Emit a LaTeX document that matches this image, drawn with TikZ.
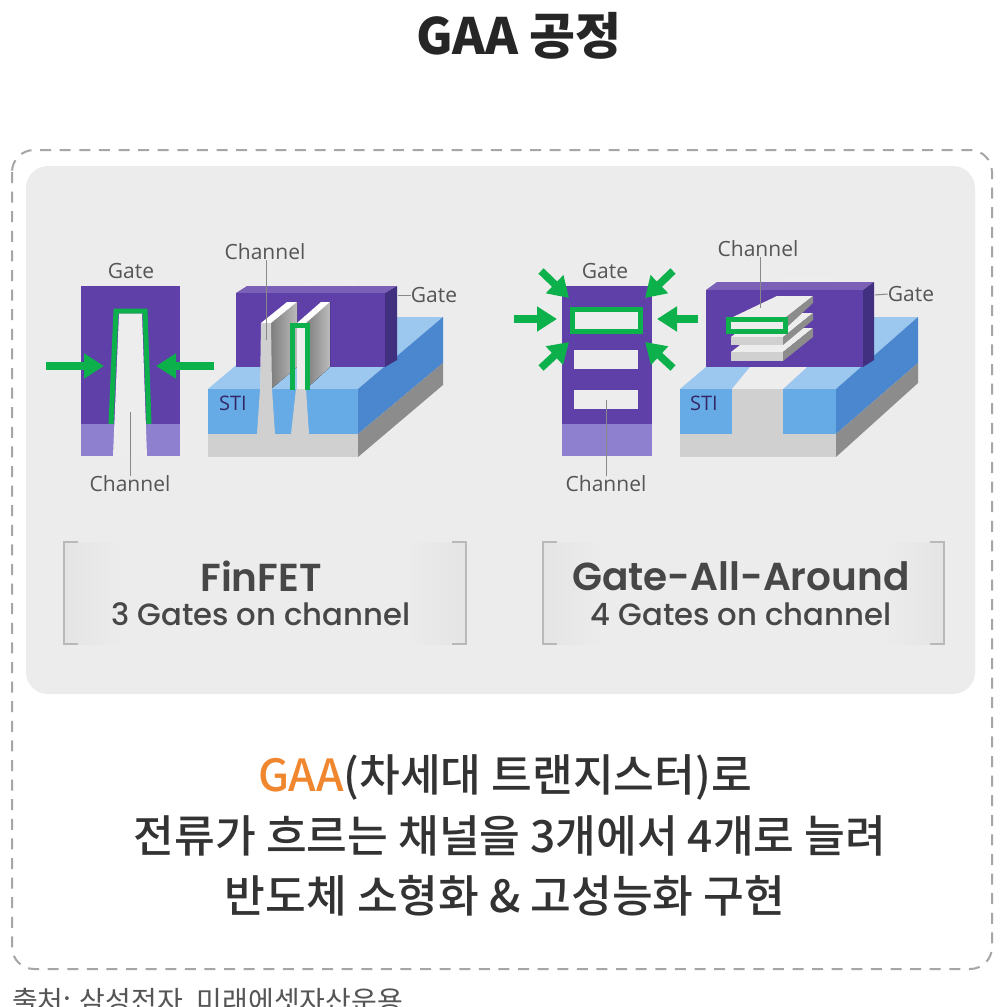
\documentclass[tikz,border=0pt]{standalone}
\usepackage{fontspec}
\setmainfont{Noto Sans CJK KR}
\newfontfamily\medkr{Noto Sans CJK KR Medium}
\newfontfamily\latinf{Open Sans}
\newfontfamily\wide{Poppins Medium}
\newfontfamily\widesb{Poppins SemiBold}
\usetikzlibrary{arrows.meta}
\definecolor{gatef}{HTML}{5F3FA8}
\definecolor{gatet}{HTML}{7B60B8}
\definecolor{gates}{HTML}{41307F}
\definecolor{gatel}{HTML}{8F7FCF}
\definecolor{stif}{HTML}{66ABE6}
\definecolor{stit}{HTML}{9CC7EE}
\definecolor{stis}{HTML}{4A87CF}
\definecolor{basef}{HTML}{D0D0D0}
\definecolor{bases}{HTML}{8C8C8C}
\definecolor{chan}{HTML}{EDEDED}
\definecolor{grn}{HTML}{0DB14B}
\definecolor{panel}{HTML}{ECECEC}
\definecolor{ink}{HTML}{333333}
\definecolor{lab}{HTML}{555555}
\definecolor{org}{HTML}{F0862E}
\definecolor{capside}{HTML}{E4E4E4}
\tikzset{
  x=1pt,y=-1pt,
  gateface/.style={fill=gatef},
  gatetop/.style={fill=gatet},
  gateside/.style={fill=gates},
  gatelow/.style={fill=gatel},
  stiface/.style={fill=stif},
  stitop/.style={fill=stit},
  stiside/.style={fill=stis},
  baseface/.style={fill=basef},
  baseside/.style={fill=bases},
  chanface/.style={fill=chan},
  finside/.style={left color=bases!90!black,right color=basef!90!black},
  greenline/.style={draw=grn,line width=5pt},
  pusharrow/.style={draw=grn,line width=7.5pt,-{Triangle[length=20pt,width=24pt]}},
  smalllabel/.style={font=\latinf\fontsize{21}{21}\selectfont,text=lab,inner sep=0pt},
  leader/.style={draw=lab!70,line width=1pt},
  stilabel/.style={font=\latinf\fontsize{20}{20}\selectfont,text=gates!80!black,inner sep=0pt},
  bracket/.style={draw=gray!55,line width=1.6pt},
  headtext/.style={font=\widesb\fontsize{39}{39}\selectfont,text=ink!90,inner sep=0pt},
  subtext/.style={font=\wide\fontsize{30.7}{30.7}\selectfont,text=ink!90,inner sep=0pt},
  bigtext/.style={font=\medkr\fontsize{44.3}{44.3}\selectfont,text=ink,inner sep=0pt},
}
\begin{document}
\begin{tikzpicture}
\useasboundingbox (0,0) rectangle (1002,1007);
\clip (0,0) rectangle (1002,1007);
\fill[white] (0,0) rectangle (1002,1007);

\node[inner sep=0pt,font=\bfseries\fontsize{50}{50}\selectfont,text=black!85] (title) at (519,36) {GAA 공정};
\draw[draw=gray!70,line width=2pt,dash pattern=on 11pt off 8.6pt,rounded corners=22pt] (12,150) rectangle (992,969);
\fill[panel,rounded corners=22pt] (26,166) rectangle (975,694);

% ---------- FinFET cross-section
\fill[gateface] (81,286) rectangle (180,424);
\fill[gatelow] (81,424) rectangle (180,456);
\draw[greenline] (111,424) -- (116,311) -- (145,311) -- (149,424);
\fill[chanface] (119,313.5) -- (142,313.5) -- (147,456) -- (113,456) -- cycle;

% ---------- FinFET 3D
\fill[stitop] (208,389) -- (293,317) -- (443,317) -- (358,389) -- cycle;
\fill[stiside] (358,389) -- (443,317) -- (443,363) -- (358,434) -- cycle;
\fill[baseside] (358,434) -- (443,363) -- (443,385) -- (358,457) -- cycle;
\fill[chanface] (303,286) -- (308,280) -- (322,280) -- (320,286) -- cycle;
\fill[chanface] (338,286) -- (343,280) -- (357,280) -- (355,286) -- cycle;
\fill[gatetop] (236,293) -- (247,286) -- (397,286) -- (385,293) -- cycle;
\fill[gateface] (236,293) rectangle (385,367);
\fill[gateside] (385,293) -- (397,286) -- (397,360) -- (385,367) -- cycle;
\fill[stiface] (208,389) rectangle (358,434);
\fill[baseface] (208,434) rectangle (358,457);
% fin 1
\fill[finside] (271,323) -- (297,302) -- (297,367) -- (271,389) -- cycle;
\fill[white] (261,323) -- (287,302) -- (297,302) -- (271,323) -- cycle;
\fill[basef] (261,323) -- (271,323) -- (272,389) -- (275,434) -- (257,434) -- (260,389) -- cycle;
% fin 2
\fill[finside] (306,323) -- (330,302) -- (330,367) -- (306,389) -- cycle;
\fill[white] (297,323) -- (321,302) -- (330,302) -- (306,323) -- cycle;
\fill[basef] (296,389) -- (306,389) -- (309,434) -- (291,434) -- cycle;
\fill[chanface] (297,325) rectangle (306,389);
\draw[greenline] (292.5,390) -- (292.5,325) -- (307.5,325) -- (307.5,390);

% ---------- GAA cross-section
\fill[gateface] (562,286) rectangle (652,424);
\fill[gatelow] (562,424) rectangle (652,456);
\fill[chanface] (574,312) rectangle (638,329);
\draw[greenline] (572.5,309.5) rectangle (640.5,331);
\fill[chanface] (574,350) rectangle (638,369);
\fill[chanface] (574,390) rectangle (638,409);

% ---------- GAA 3D
\fill[stitop] (680,389) -- (765,317) -- (918,317) -- (836,389) -- cycle;
\fill[chanface] (732,389) -- (750,367) -- (807,367) -- (783,389) -- cycle;
\fill[stiside] (836,389) -- (918,317) -- (918,363) -- (836,434) -- cycle;
\fill[baseside] (836,434) -- (918,363) -- (918,383) -- (836,457) -- cycle;
\fill[chanface] (777,282) -- (781,277) -- (834,277) -- (834,282) -- cycle;
\fill[gatetop] (706,290) -- (717,282) -- (874,282) -- (863,290) -- cycle;
\fill[gateface] (706,290) rectangle (863,367);
\fill[gateside] (863,290) -- (874,282) -- (874,360) -- (863,367) -- cycle;
\fill[stiface] (680,389) rectangle (836,434);
\fill[baseface] (732,389) rectangle (783,434);
\fill[baseface] (680,434) rectangle (836,457);
% sheets, bottom to top
\fill[chanface] (731,352) -- (762,328) -- (813,328) -- (783,352) -- cycle;
\fill[bases] (783,352) -- (813,328) -- (813,337) -- (783,361) -- cycle;
\fill[basef] (731,352) rectangle (783,361);
\fill[chanface] (731,337) -- (762,313) -- (813,313) -- (783,337) -- cycle;
\fill[bases] (783,337) -- (813,313) -- (813,320) -- (783,345) -- cycle;
\fill[basef] (731,337) rectangle (783,345);
\fill[chanface] (733,317) -- (777,296) -- (813,296) -- (787,317) -- cycle;
\fill[bases] (786,317) -- (813,296) -- (813,303) -- (786,328) -- cycle;
\fill[chanface] (731,321) rectangle (783,330);
\draw[greenline] (728.5,319.5) rectangle (785.5,331);

% ---------- labels and leaders
\node[smalllabel] (g1) at (131,271) {Gate};
\node[smalllabel] (c1) at (130,484) {Channel};
\coordinate (c1end) at (130,412);
\draw[leader] (c1.north) -- (c1end);
\node[smalllabel] (c2) at (265,252) {Channel};
\coordinate (c2end) at (266,340);
\draw[leader] (c2.south -| c2end) -- (c2end);
\node[smalllabel] (g2) at (434,295) {Gate};
\coordinate (g2end) at (398,295);
\draw[leader] (g2.west) -- (g2end);
\node[stilabel] (s1) at (233,403) {STI};

\node[smalllabel] (g3) at (605,271) {Gate};
\node[smalllabel] (c3) at (606,484) {Channel};
\coordinate (c3end) at (606,400);
\draw[leader] (c3.north) -- (c3end);
\node[smalllabel] (c4) at (758,249) {Channel};
\coordinate (c4end) at (760,308);
\draw[leader] (c4.south -| c4end) -- (c4end);
\node[smalllabel] (g4) at (911,294) {Gate};
\coordinate (g4end) at (875,295);
\draw[leader] (g4.west) -- (g4end);
\node[stilabel] (s2) at (704,403) {STI};

% ---------- green arrows
\coordinate (a1s) at (46,366); \coordinate (a1e) at (104,366);
\coordinate (a2s) at (214,366); \coordinate (a2e) at (156,366);
\draw[pusharrow] (a1s) -- (a1e);
\draw[pusharrow] (a2s) -- (a2e);
\coordinate (b1s) at (514,319); \coordinate (b1e) at (557,319);
\coordinate (b2s) at (698,319); \coordinate (b2e) at (657,319);
\coordinate (b3s) at (541,271); \coordinate (b3e) at (569,298);
\coordinate (b4s) at (673,271); \coordinate (b4e) at (645,298);
\coordinate (b5s) at (541,368); \coordinate (b5e) at (569,342);
\coordinate (b6s) at (673,368); \coordinate (b6e) at (645,342);
\foreach \n in {1,...,6}{\draw[pusharrow] (b\n s) -- (b\n e);}

% ---------- captions
\shade[left color=capside,right color=panel] (64,542) rectangle (124,644);
\shade[left color=panel,right color=capside] (406,542) rectangle (466,644);
\shade[left color=capside,right color=panel] (543,542) rectangle (603,644);
\shade[left color=panel,right color=capside] (884,542) rectangle (944,644);
\draw[bracket] (78,542) -- (64,542) -- (64,644) -- (78,644);
\draw[bracket] (452,542) -- (466,542) -- (466,644) -- (452,644);
\draw[bracket] (557,542) -- (543,542) -- (543,644) -- (557,644);
\draw[bracket] (930,542) -- (944,542) -- (944,644) -- (930,644);
\node[headtext] (h1) at (261,576) {FinFET};
\node[subtext] (t1) at (261,614) {3 Gates on channel};
\node[headtext] (h2) at (741,576) {Gate-All-Around};
\node[subtext] (t2) at (741,614) {4 Gates on channel};

% ---------- main text
\node[bigtext] (l1) at (505,777) {\textcolor{org}{GAA}(차세대 트랜지스터)로};
\node[bigtext] (l2) at (510,836) {전류가 흐르는 채널을 3개에서 4개로 늘려};
\node[bigtext] (l3) at (505,896) {반도체 소형화 \& 고성능화 구현};
\node[anchor=west,inner sep=0pt,font=\fontsize{28}{28}\selectfont,text=lab] (src) at (12,1002) {출처: 삼성전자, 미래에셋자산운용};
\end{tikzpicture}
\end{document}
